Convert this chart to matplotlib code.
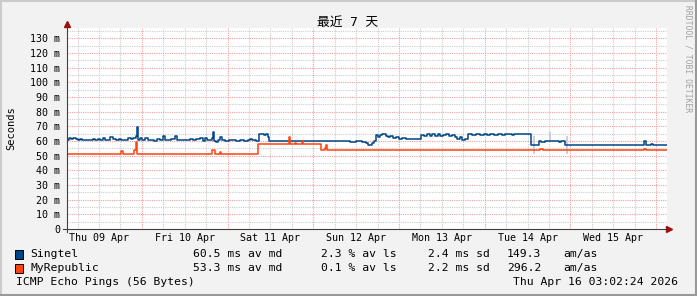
import numpy as np
import pandas as pd
import matplotlib
matplotlib.use("Agg")
import matplotlib.pyplot as plt
import matplotlib.dates as mdates
from matplotlib.patches import Rectangle
from matplotlib.lines import Line2D

# window: 7 days ending Thu Apr 16 03:02:24 2026
end_time = pd.Timestamp("2026-04-16 03:02:24")
start_time = end_time - pd.Timedelta(days=7)

# Singtel median RTT (ms), hours since window start
singtel_h = [0.0, 0.56, 1.12, 1.68, 2.52, 3.08, 3.64, 4.2, 5.04, 5.88,
             6.44, 7.28, 7.84, 8.68, 9.24, 10.08, 10.64, 11.48, 12.04, 12.88,
             13.72, 14.56, 15.12, 15.96, 17.08, 17.92, 18.48, 19.32, 19.6, 19.88,
             20.44, 21.0, 21.84, 22.68, 23.52, 24.36, 25.2, 26.04, 26.88, 27.44,
             28.28, 29.12, 30.24, 30.8, 31.64, 32.76, 33.6, 34.44, 35.28, 36.12,
             37.24, 38.08, 38.64, 39.2, 40.04, 40.6, 40.88, 41.16, 41.72, 42.28,
             42.84, 43.4, 44.24, 45.36, 46.2, 47.32, 48.44, 49.56, 50.68, 51.24,
             51.8, 52.92, 53.76, 55.16, 55.72, 56.28, 56.56, 62.44, 65.24, 68.04,
             68.88, 69.72, 73.64, 76.44, 79.24, 80.92, 82.6, 83.72, 84.28, 85.4,
             85.96, 86.52, 87.08, 87.64, 88.2, 89.32, 89.88, 90.44, 91.28, 92.12,
             92.96, 93.8, 94.92, 96.04, 97.16, 98.28, 99.12, 99.96, 100.8, 101.64,
             102.2, 103.04, 103.88, 104.44, 105.28, 106.12, 106.96, 107.8, 108.64, 109.2,
             110.04, 110.6, 111.44, 112.28, 113.4, 114.52, 115.64, 116.76, 117.6, 118.44,
             119.56, 120.68, 121.8, 122.64, 124.04, 124.6, 125.16, 129.92, 132.16, 132.72,
             133.28, 133.84, 137.76, 138.32, 139.44, 161.56, 162.12, 163.52, 164.08, 167.72]
singtel_ms = [61.0, 62.0, 61.5, 62.3, 61.3, 60.6, 61.5, 60.8, 60.4, 61.0,
              60.5, 61.3, 60.6, 61.6, 60.8, 62.0, 61.0, 60.6, 62.5, 61.2,
              60.8, 61.5, 60.7, 61.0, 62.3, 61.2, 61.8, 63.5, 69.3, 61.0,
              62.2, 61.0, 61.8, 60.4, 60.8, 60.2, 61.2, 60.6, 63.4, 61.0,
              60.4, 61.2, 63.2, 60.8, 60.5, 61.0, 60.6, 61.5, 60.7, 61.3,
              62.2, 60.0, 62.3, 61.0, 60.5, 62.2, 66.3, 60.0, 59.5, 60.8,
              62.5, 60.6, 60.2, 60.8, 60.4, 60.2, 60.4, 60.2, 60.8, 61.5,
              60.4, 60.2, 64.7, 64.3, 64.7, 63.0, 60.2, 60.0, 60.2, 59.8,
              60.3, 59.8, 59.9, 60.0, 59.6, 59.7, 59.2, 58.8, 57.5, 58.6,
              59.7, 64.1, 63.0, 64.2, 64.8, 63.7, 62.8, 63.5, 62.0, 62.5,
              61.6, 61.9, 61.3, 61.4, 61.2, 61.3, 64.1, 63.6, 64.5, 63.3,
              64.6, 63.2, 64.8, 63.5, 64.2, 64.8, 63.4, 64.3, 63.0, 61.4,
              62.8, 61.0, 61.5, 64.8, 64.2, 64.9, 64.0, 64.7, 64.1, 64.5,
              64.0, 64.7, 64.2, 64.8, 64.8, 63.9, 64.8, 57.5, 59.7, 59.3,
              59.0, 60.0, 59.3, 60.0, 57.2, 59.7, 57.2, 57.9, 57.2, 57.2]

# MyRepublic median RTT (ms)
myrep_h = [0.0, 15.12, 15.68, 18.76, 19.32, 19.74, 40.6, 41.44, 42.84, 43.12,
           53.48, 62.16, 62.44, 63.84, 64.12, 65.8, 66.08, 71.12, 72.24, 72.52,
           72.8, 132.44, 133.28, 161.56, 162.12, 167.72]
myrep_ms = [51.1, 53.4, 51.1, 53.7, 59.0, 51.1, 53.7, 51.1, 52.5, 51.1,
            57.9, 62.9, 57.9, 58.6, 57.9, 60.2, 57.9, 53.7, 55.5, 57.3,
            53.7, 54.7, 53.7, 54.7, 53.7, 53.7]

# faint smoke bars on Tue 14 Apr
smoke_h = [130.76, 135.24, 139.86]
smoke_lo = [51.1, 59.7, 51.1]
smoke_hi = [63.6, 65.8, 63.6]

legend_names = ["Singtel", "MyRepublic"]
legend_md = ["60.5 ms av md", "53.3 ms av md"]
legend_ls = ["2.3 % av ls", "0.1 % av ls"]
legend_sd = ["2.4 ms sd", "2.2 ms sd"]
legend_am = ["149.3", "296.2"]
colors = ["#004586", "#ff420e"]

W, H = 697, 296
def fx(px):
    return px / W
def fy(py):
    return 1 - py / H

mono = "DejaVu Sans Mono"
fig = plt.figure(figsize=(W / 100, H / 100), dpi=100, facecolor="#f2f2f2")
ax = fig.add_axes([fx(67), fy(229), 600 / W, 201 / H])
ax.set_facecolor("white")

def to_time(hours):
    return start_time + pd.to_timedelta(np.asarray(hours), unit="h")

ax.vlines(to_time(smoke_h), smoke_lo, smoke_hi, color="#c3d0e3", lw=1.4, zorder=2)
ax.plot(to_time(singtel_h + [168]), singtel_ms + [singtel_ms[-1]],
        drawstyle="steps-post", color=colors[0], lw=1.1, zorder=3)
ax.plot(to_time(myrep_h + [168]), myrep_ms + [myrep_ms[-1]],
        drawstyle="steps-post", color=colors[1], lw=1.1, zorder=3)

ax.set_xlim(start_time, end_time)
ax.set_ylim(0, 137)

# grid: minor every 6 h / 5 ms (grey), major at midnight / 10 ms (red)
dotted = (0, (1, 1))
for t in pd.date_range("2026-04-09 06:00", "2026-04-16 00:00", freq="6h"):
    c = "#f0a0a0" if t.hour == 0 else "#cccccc"
    ax.axvline(t, color=c, lw=0.8, ls=dotted, zorder=1)
for v in range(5, 137, 5):
    c = "#f0a0a0" if v % 10 == 0 else "#cccccc"
    ax.axhline(v, color=c, lw=0.8, ls=dotted, zorder=1)

ax.xaxis.set_major_locator(mdates.HourLocator(byhour=12))
ax.xaxis.set_major_formatter(mdates.DateFormatter("%a %d %b"))
ax.set_yticks(range(0, 131, 10))
ax.set_yticklabels(["0"] + [f"{v} m" for v in range(10, 131, 10)])
ax.tick_params(length=0, labelsize=7.2)
ax.tick_params(axis="x", pad=3)
ax.tick_params(axis="y", pad=5)
for lab in ax.get_xticklabels() + ax.get_yticklabels():
    lab.set_family(mono)
for s in ax.spines.values():
    s.set_visible(False)

# axes with arrows
axis_col = "#404040"
arrow_col = "#9b1010"
ax.plot([-0.007, 1.002], [0, 0], transform=ax.transAxes, clip_on=False, color=axis_col, lw=0.8, zorder=5)
ax.plot([0, 0], [-0.015, 1.02], transform=ax.transAxes, clip_on=False, color=axis_col, lw=0.8, zorder=5)
ax.plot([1.004], [0], marker=">", ms=4.5, color=arrow_col, transform=ax.transAxes, clip_on=False, zorder=6)
ax.plot([0], [1.02], marker="^", ms=4.5, color=arrow_col, transform=ax.transAxes, clip_on=False, zorder=6)

# texts
fig.text(fx(348), fy(22), "最近 7 天", family=[mono, "Noto Sans CJK SC"],
         fontsize=9.2, ha="center", va="center")
fig.text(fx(11), fy(128), "Seconds", family=mono, fontsize=7.5, rotation=90,
         ha="center", va="center")
fig.text(fx(688), fy(5), "RRDTOOL / TOBI OETIKER", family=mono, fontsize=5.8,
         color="#a0a0a0", rotation=270, ha="center", va="top")

rows_y = [254.3, 268.3]
for i in range(2):
    y = rows_y[i]
    fig.add_artist(Rectangle((fx(15), fy(y + 4.5)), 8 / W, 9 / H, transform=fig.transFigure,
                             facecolor=colors[i], edgecolor="black", lw=0.7))
    kw = dict(family=mono, fontsize=8.2, va="center", ha="left")
    fig.text(fx(30), fy(y), legend_names[i], **kw)
    fig.text(fx(193), fy(y), legend_md[i], **kw)
    fig.text(fx(321), fy(y), legend_ls[i], **kw)
    fig.text(fx(428), fy(y), legend_sd[i], **kw)
    fig.text(fx(507), fy(y), legend_am[i], **kw)
    fig.text(fx(563), fy(y), "am/as", **kw)
fig.text(fx(16.5), fy(282), "ICMP Echo Pings (56 Bytes)", family=mono, fontsize=8.2, va="center")
fig.text(fx(513), fy(282), "Thu Apr 16 03:02:24 2026", family=mono, fontsize=8.2, va="center")

# 3d-ish frame
for (x0, y0, x1, y1, c) in [(0, 0.5, W, 0.5, "#cbcbcb"), (0.5, 0, 0.5, H, "#cbcbcb"),
                            (0, H - 1, W, H - 1, "#999999"), (W - 1, 0, W - 1, H, "#999999")]:
    fig.add_artist(Line2D([fx(x0), fx(x1)], [fy(y0), fy(y1)], transform=fig.transFigure,
                          color=c, lw=1.5))

fig.savefig("out.png", dpi=100, facecolor=fig.get_facecolor())
